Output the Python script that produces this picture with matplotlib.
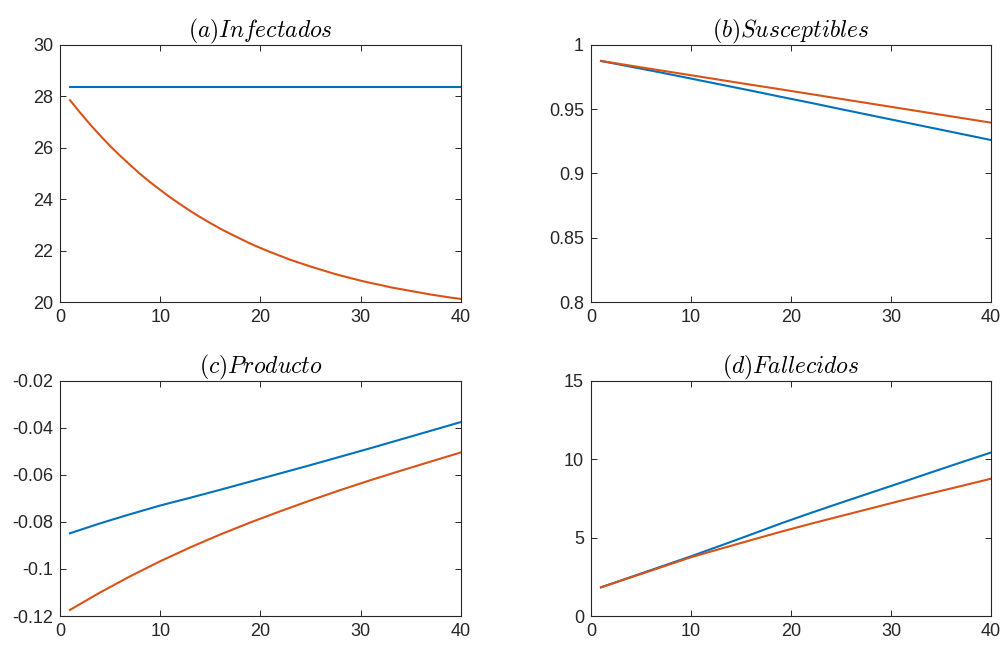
import numpy as np
import matplotlib
matplotlib.use('Agg')
import matplotlib.pyplot as plt
from matplotlib.ticker import FuncFormatter

plt.rcParams['font.family'] = ['Liberation Sans', 'DejaVu Sans']
plt.rcParams['mathtext.fontset'] = 'cm'
plt.rcParams['axes.unicode_minus'] = False

t = [1, 4, 7, 10, 13, 16, 19, 22, 25, 28, 31, 34, 37, 40]
t_all = list(range(1, 41))  # panel (a) curve bends a lot, read every period

# (a) Infectados
inf_blue = [28.35] * 40
inf_orange = [27.85, 27.37, 26.91, 26.48, 26.07, 25.69, 25.33, 24.98, 24.66, 24.36,
              24.07, 23.80, 23.54, 23.30, 23.07, 22.85, 22.65, 22.46, 22.27, 22.10,
              21.94, 21.79, 21.64, 21.51, 21.38, 21.26, 21.14, 21.03, 20.93, 20.83,
              20.74, 20.66, 20.57, 20.50, 20.43, 20.36, 20.29, 20.23, 20.17, 20.12]
# (b) Susceptibles
sus_blue = [0.9875, 0.9830, 0.9785, 0.9738, 0.9691, 0.9644, 0.9596, 0.9549,
            0.9500, 0.9452, 0.9404, 0.9356, 0.9308, 0.9260]
sus_orange = [0.9875, 0.9838, 0.9801, 0.9764, 0.9727, 0.9690, 0.9654, 0.9617,
              0.9580, 0.9543, 0.9506, 0.9469, 0.9432, 0.9395]
# (c) Producto
prod_blue = [-0.0848, -0.0806, -0.0767, -0.0730, -0.0697, -0.0663, -0.0628,
             -0.0593, -0.0558, -0.0522, -0.0486, -0.0449, -0.0412, -0.0375]
prod_orange = [-0.1174, -0.1100, -0.1031, -0.0967, -0.0908, -0.0853, -0.0802,
               -0.0754, -0.0708, -0.0664, -0.0622, -0.0582, -0.0543, -0.0504]
# (d) Fallecidos
fal_blue = [1.83, 2.49, 3.15, 3.81, 4.50, 5.20, 5.91, 6.58, 7.23, 7.87, 8.51,
            9.16, 9.80, 10.43]
fal_orange = [1.83, 2.47, 3.11, 3.75, 4.30, 4.84, 5.38, 5.89, 6.38, 6.87, 7.36,
              7.83, 8.29, 8.76]

titles = [r'$(a)Infectados$', r'$(b)Susceptibles$', r'$(c)Producto$', r'$(d)Fallecidos$']
xs = [t_all, t, t, t]
series = [(inf_blue, inf_orange), (sus_blue, sus_orange),
          (prod_blue, prod_orange), (fal_blue, fal_orange)]
ylims = [(20, 30), (0.8, 1), (-0.12, -0.02), (0, 15)]
yticks = [np.arange(20, 31, 2), [0.8, 0.85, 0.9, 0.95, 1.0],
          [-0.12, -0.1, -0.08, -0.06, -0.04, -0.02], [0, 5, 10, 15]]
# axes boxes in figure fractions [left, bottom, width, height]
boxes = [[0.0596, 0.5325, 0.3986, 0.398], [0.5875, 0.5325, 0.3976, 0.398],
         [0.0596, 0.0464, 0.3986, 0.364], [0.5875, 0.0464, 0.3976, 0.364]]

blue = '#0072BD'
orange = '#D95319'
dark = '#262626'

fig = plt.figure(figsize=(10.06, 6.46), dpi=100)
for i in range(4):
    ax = fig.add_axes(boxes[i])
    b, o = series[i]
    ax.plot(xs[i], b, color=blue, lw=1.5)
    ax.plot(xs[i], o, color=orange, lw=1.5)
    ax.set_xlim(0, 40)
    ax.set_ylim(*ylims[i])
    ax.set_xticks([0, 10, 20, 30, 40])
    ax.set_yticks(yticks[i])
    ax.yaxis.set_major_formatter(FuncFormatter(lambda v, p: '{:g}'.format(round(v, 4))))
    ax.tick_params(direction='in', top=True, right=True, length=4, width=0.7,
                   colors=dark, labelsize=13, pad=5)
    for s in ax.spines.values():
        s.set_color(dark)
        s.set_linewidth(0.8)
    ax.set_title(titles[i], fontsize=17, color='black', pad=5)

fig.savefig('out.png', dpi=100)
